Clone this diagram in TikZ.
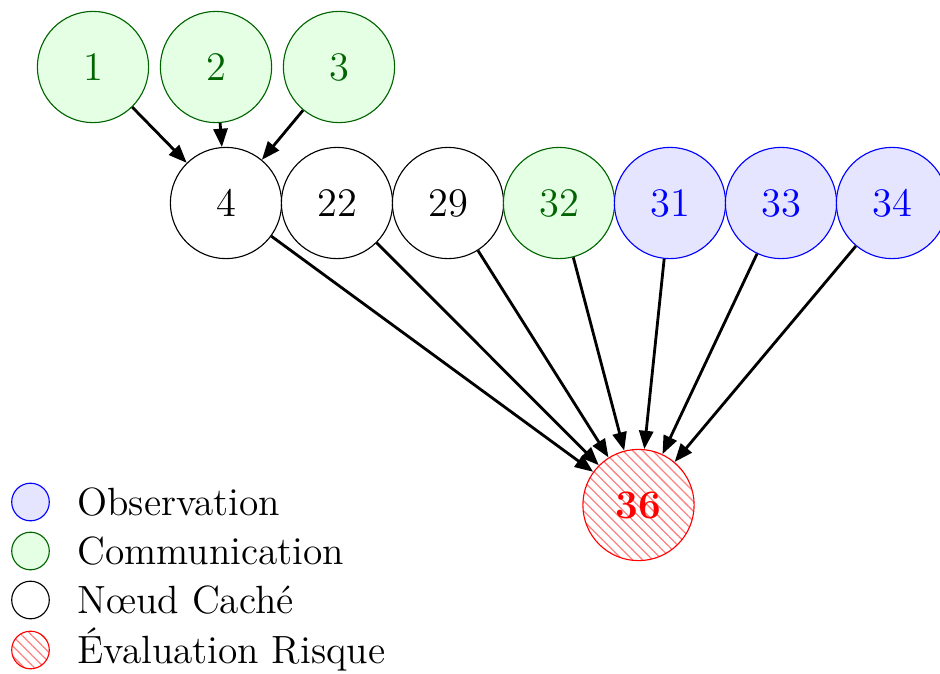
\documentclass[tikz,border=0pt]{standalone}
\usepackage{fontspec}
\usetikzlibrary{arrows.meta,patterns.meta}
\definecolor{dgreen}{RGB}{0,100,0}
\begin{document}
\begin{tikzpicture}[x=0.0125cm,y=-0.0125cm,
  hatch/.style={pattern={Lines[angle=-45,distance=2.5pt,line width=0.45pt]},pattern color=red!50},
  nd/.style={circle,draw,minimum size=1.39cm,inner sep=0pt,font=\Large},
  comm/.style={nd,draw=dgreen,fill=green!10,text=dgreen},
  obs/.style={nd,draw=blue,fill=blue!10,text=blue},
  hid/.style={nd,draw=black,fill=white},
  risk/.style={nd,draw=red,hatch,text=red,font=\Large\bfseries},
  edge/.style={-{Triangle[length=6.5pt,width=5pt]},line width=1pt},
  lg/.style={circle,draw,minimum size=0.47cm,inner sep=0pt},
  lgtext/.style={anchor=base west,font=\fontsize{14}{17}\selectfont,inner sep=0pt}]
\useasboundingbox (0,0) rectangle (940,673);
% top row
\node[comm] (n1) at (93,67) {1};
\node[comm] (n2) at (216,67) {2};
\node[comm] (n3) at (339,67) {3};
% middle row
\node[hid] (n4) at (226,203) {4};
\node[hid] (n22) at (337,203) {22};
\node[hid] (n29) at (448,203) {29};
\node[comm] (n32) at (559,203) {32};
\node[obs] (n31) at (670,203) {31};
\node[obs] (n33) at (781,203) {33};
\node[obs] (n34) at (892,203) {34};
% risk
\node[risk] (n36) at (638.5,505) {36};
% edges
\draw[edge] (n1) -- (n4);
\draw[edge] (n2) -- (n4);
\draw[edge] (n3) -- (n4);
\foreach \s in {n4,n22,n29,n32,n31,n33,n34}
  \draw[edge] (\s) -- (n36);
% legend
\node[lg,draw=blue,fill=blue!10] (l1) at (30.5,502) {};
\node[lg,draw=dgreen,fill=green!10] (l2) at (30.5,551) {};
\node[lg,draw=black] (l3) at (30.5,600) {};
\node[lg,draw=red,hatch] (l4) at (30.5,650) {};
\node[lgtext] (t1) at (77,515) {Observation};
\node[lgtext] (t2) at (77,564) {Communication};
\node[lgtext] (t3) at (77,613) {Nœud Caché};
\node[lgtext] (t4) at (77,663) {Évaluation Risque};
\end{tikzpicture}
\end{document}
